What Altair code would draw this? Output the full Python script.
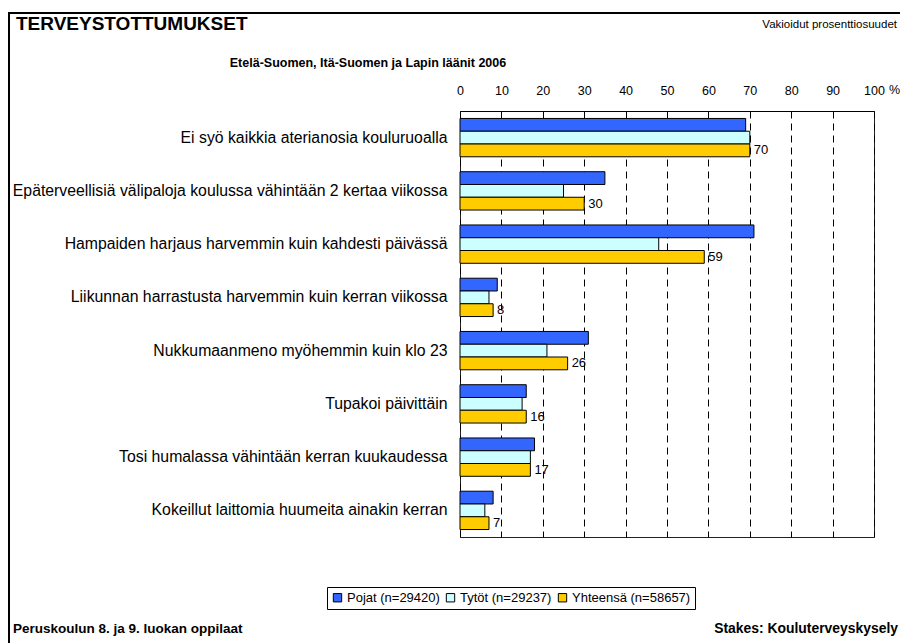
import altair as alt
import pandas as pd

categories = [
    "Ei syö kaikkia aterianosia kouluruoalla",
    "Epäterveellisiä välipaloja koulussa vähintään 2 kertaa viikossa",
    "Hampaiden harjaus harvemmin kuin kahdesti päivässä",
    "Liikunnan harrastusta harvemmin kuin kerran viikossa",
    "Nukkumaanmeno myöhemmin kuin klo 23",
    "Tupakoi päivittäin",
    "Tosi humalassa vähintään kerran kuukaudessa",
    "Kokeillut laittomia huumeita ainakin kerran",
]
series = ["Pojat (n=29420)", "Tytöt (n=29237)", "Yhteensä (n=58657)"]
pojat = [69, 35, 71, 9, 31, 16, 18, 8]
tytot = [70, 25, 48, 7, 21, 15, 17, 6]
yhteensa = [70, 30, 59, 8, 26, 16, 17, 7]
colors = ["#3366FF", "#CCFFFF", "#FFCC00"]
x_ticks = [0, 10, 20, 30, 40, 50, 60, 70, 80, 90, 100]

rows = []
for s, vals in zip(series, [pojat, tytot, yhteensa]):
    for c, v in zip(categories, vals):
        rows.append({"kategoria": c, "sarja": s, "arvo": v})
df = pd.DataFrame(rows)

FONT = "Liberation Sans"

x_enc = alt.X(
    "arvo:Q",
    scale=alt.Scale(domain=[0, 100], nice=False),
    axis=alt.Axis(
        orient="top", values=x_ticks, title=None, ticks=False,
        labelPadding=14, labelFontSize=12.5, labelFont=FONT, labelColor="black",
        grid=True, gridDash=[7, 5], gridColor="black", gridWidth=1,
        domainColor="black", labelFlush=False,
    ),
)
y_enc = alt.Y(
    "kategoria:N", sort=categories,
    scale=alt.Scale(paddingInner=0.28, paddingOuter=0.14),
    axis=alt.Axis(title=None, ticks=False, domain=False, labelPadding=13,
                  labelFontSize=15.8, labelFont=FONT, labelColor="black",
                  labelLimit=500),
)
yoff = alt.YOffset("sarja:N", sort=series, scale=alt.Scale(domain=series, paddingInner=0, paddingOuter=0))

bars = alt.Chart(df).mark_bar(stroke="black", strokeWidth=1).encode(
    x=x_enc, y=y_enc, yOffset=yoff,
    color=alt.Color(
        "sarja:N", sort=series,
        scale=alt.Scale(domain=series, range=colors),
        legend=alt.Legend(
            title=None, orient="none", legendX=-133, legendY=476,
            direction="horizontal", symbolType="square", symbolSize=70,
            symbolStrokeColor="black", symbolStrokeWidth=1,
            labelFontSize=13, labelFont=FONT, labelColor="black",
            strokeColor="black", padding=4, columnPadding=4, labelOffset=3,
        ),
    ),
)

labels = alt.Chart(df).transform_filter(
    alt.datum.sarja == series[2]
).mark_text(align="left", baseline="middle", dx=4, fontSize=13, font=FONT, color="black").encode(
    x="arvo:Q", y=alt.Y("kategoria:N", sort=categories), yOffset=yoff, text="arvo:Q"
)

def txt(t, x, y, size, bold=False, align="left"):
    return alt.Chart(pd.DataFrame({"t": [t]})).mark_text(
        align=align, baseline="alphabetic", fontSize=size, font=FONT,
        fontWeight="bold" if bold else "normal", color="black",
    ).encode(text="t:N", x=alt.value(x), y=alt.value(y))

dummy = pd.DataFrame({"a": [0]})
frame_left = alt.Chart(dummy).mark_rule(color="black", strokeWidth=2).encode(
    x=alt.value(-451), y=alt.value(-98), y2=alt.value(540))
frame_top = alt.Chart(dummy).mark_rule(color="black", strokeWidth=2).encode(
    x=alt.value(-452), x2=alt.value(460), y=alt.value(-98))

chart = alt.layer(
    bars, labels,
    frame_left, frame_top,
    txt("TERVEYSTOTTUMUKSET", -444, -81, 19, bold=True),
    txt("Vakioidut prosenttiosuudet", 437, -83, 11.5, align="right"),
    txt("Etelä-Suomen, Itä-Suomen ja Lapin läänit 2006", -92, -44, 12.5, bold=True, align="center"),
    txt("%", 429, -17, 12.5),
    txt("Peruskoulun 8. ja 9. luokan oppilaat", -447, 522, 13.5, bold=True),
    txt("Stakes: Kouluterveyskysely", 438, 522, 13.9, bold=True, align="right"),
).properties(
    width=414, height=426,
    padding={"left": 452, "top": 103, "right": 26, "bottom": 106},
    autosize="none",
).configure_view(stroke="#222", strokeWidth=1)

chart.save("out.html", embed_options={"renderer": "svg", "actions": False})
